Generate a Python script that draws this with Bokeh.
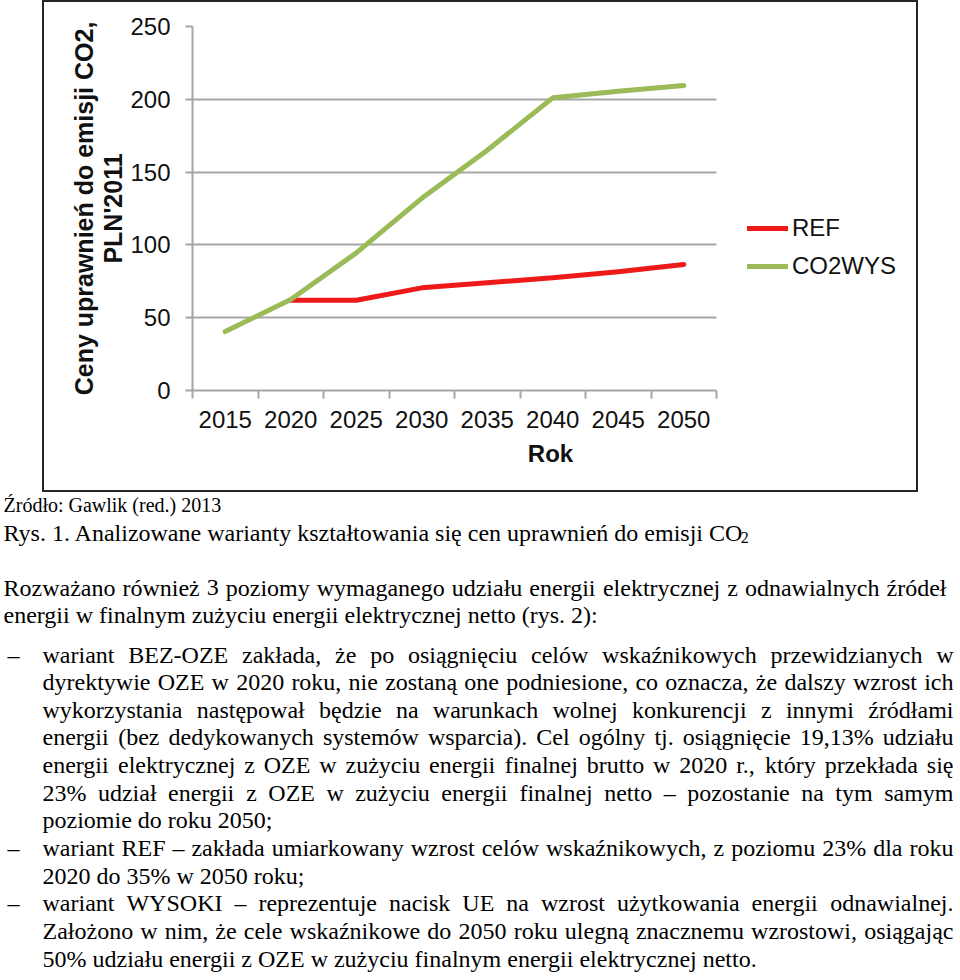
from bokeh.plotting import figure
from bokeh.models import (Range1d, FixedTicker, ColumnDataSource, Legend, LegendItem)
from bokeh.embed import file_html
from bokeh.resources import INLINE
from bokeh.core.properties import value

# ---------------- data ----------------
years = [2015, 2020, 2025, 2030, 2035, 2040, 2045, 2050]
ref_prices = [float("nan"), 62, 62, 70.5, 74, 77.5, 81.5, 86.5]
co2wys_prices = [40.5, 62.5, 94.5, 132, 165, 201, 205.5, 209.5]
y_ticks = [0, 50, 100, 150, 200, 250]
series_names = ["REF", "CO2WYS"]
x_axis_title = "Rok"
y_axis_title = "Ceny uprawnień do emisji CO2,\nPLN'2011"

source_note = "Źródło: Gawlik (red.) 2013"
caption = "Rys. 1. Analizowane warianty kształtowania się cen uprawnień do emisji CO"
caption_sub = "2"
intro_lines = [
    "Rozważano również 3 poziomy wymaganego udziału energii elektrycznej z odnawialnych źródeł",
    "energii w finalnym zużyciu energii elektrycznej netto (rys. 2):",
]
bullet_lines = [
    [
        "wariant BEZ-OZE zakłada, że po osiągnięciu celów wskaźnikowych przewidzianych w",
        "dyrektywie OZE w 2020 roku, nie zostaną one podniesione, co oznacza, że dalszy wzrost ich",
        "wykorzystania następował będzie na warunkach wolnej konkurencji z innymi źródłami",
        "energii (bez dedykowanych systemów wsparcia). Cel ogólny tj. osiągnięcie 19,13% udziału",
        "energii elektrycznej z OZE w zużyciu energii finalnej brutto w 2020 r., który przekłada się",
        "23% udział energii z OZE w zużyciu energii finalnej netto – pozostanie na tym samym",
        "poziomie do roku 2050;",
    ],
    [
        "wariant REF – zakłada umiarkowany wzrost celów wskaźnikowych, z poziomu 23% dla roku",
        "2020 do 35% w 2050 roku;",
    ],
    [
        "wariant WYSOKI – reprezentuje nacisk UE na wzrost użytkowania energii odnawialnej.",
        "Założono w nim, że cele wskaźnikowe do 2050 roku ulegną znacznemu wzrostowi, osiągając",
        "50% udziału energii z OZE w zużyciu finalnym energii elektrycznej netto.",
    ],
]

# ---------------- styles ----------------
RED = "#ee1a1a"
GREEN = "#9bbb59"
GRID = "#a6a6a6"
SANS = "Liberation Sans"
SERIF = "Liberation Serif"

CW, CH = 876, 492          # chart box
FRAME_L, FRAME_R = 150, 866
DATA_W = 524               # pixel width of the 8 year slots
x_start = years[0] - 2.5
x_span = 5 * len(years)
x_stop = x_start + x_span
x_end = x_start + x_span * (FRAME_R - FRAME_L) / DATA_W

# ---------------- chart ----------------
p = figure(width=CW, height=CH, output_backend="svg", toolbar_location=None,
           x_range=Range1d(x_start, x_end), y_range=Range1d(0, 250),
           min_border_left=FRAME_L, min_border_right=CW - FRAME_R,
           min_border_top=26, min_border_bottom=102,
           margin=(0, 0, 0, 42),
           styles={"outline": "2px solid #262626", "outline-offset": "-2px"})
p.outline_line_color = None
p.background_fill_color = "white"
p.border_fill_color = None

boundaries = [x_start + 5 * i for i in range(len(years) + 1)]
p.xaxis.ticker = FixedTicker(ticks=years, minor_ticks=boundaries)
p.yaxis.ticker = FixedTicker(ticks=y_ticks)
p.xaxis.bounds = (x_start, x_stop)
p.xgrid.grid_line_color = None

grid_ok = False
try:
    p.ygrid[0].cross_bounds = (x_start, x_stop)
    grid_ok = True
except Exception:
    grid_ok = False
if grid_ok:
    p.ygrid.grid_line_color = GRID
    p.ygrid.grid_line_width = 2
else:
    p.ygrid.grid_line_color = None
    gl = [v for v in y_ticks if v > 0]
    p.segment(x0=[x_start] * len(gl), x1=[x_stop] * len(gl), y0=gl, y1=gl,
              line_color=GRID, line_width=2, level="underlay")

r_ref = p.line(years, ref_prices, line_color=RED, line_width=5,
               line_cap="round", line_join="round")
r_wys = p.line(years, co2wys_prices, line_color=GREEN, line_width=5,
               line_cap="round", line_join="round")

for ax in (p.xaxis[0], p.yaxis[0]):
    ax.axis_line_color = GRID
    ax.axis_line_width = 2
    ax.major_label_text_font = SANS
    ax.major_label_text_font_size = "24px"
    ax.major_label_text_color = "#111111"
    ax.axis_label_text_font = SANS
    ax.axis_label_text_font_style = "bold"
    ax.axis_label_text_color = "#111111"

xa = p.xaxis[0]
xa.axis_label = x_axis_title
xa.axis_label_text_font_size = "24px"
xa.major_tick_in = 0
xa.major_tick_out = 0
xa.major_tick_line_color = None
xa.minor_tick_in = 0
xa.minor_tick_out = 8
xa.minor_tick_line_color = GRID
xa.minor_tick_line_width = 2
xa.major_label_standoff = 12
xa.axis_label_standoff = 9

ya = p.yaxis[0]
ya.axis_label = y_axis_title
ya.axis_label_text_font_size = "25px"
ya.axis_label_text_line_height = 1.05
ya.major_tick_in = 0
ya.major_tick_out = 7
ya.major_tick_line_color = GRID
ya.major_tick_line_width = 2
ya.minor_tick_line_color = None
ya.major_label_standoff = 15
ya.axis_label_standoff = 0

legend = Legend(items=[LegendItem(label=series_names[0], renderers=[r_ref]),
                       LegendItem(label=series_names[1], renderers=[r_wys])],
                location=(555, 107), orientation="vertical",
                glyph_width=41, glyph_height=34, label_height=34,
                label_standoff=4, spacing=4, padding=0, margin=0,
                border_line_color=None, background_fill_alpha=0,
                label_text_font=SANS, label_text_font_size="24px",
                label_text_color="#111111")
p.add_layout(legend)

# ---------------- text block ----------------
TNR = {' ': 250, '!': 333, '"': 408, '%': 833, '(': 333, ')': 333, ',': 250,
       '-': 333, '.': 250, ':': 278, ';': 278, "'": 180, '–': 500,
       'A': 722, 'B': 667, 'C': 667, 'D': 722, 'E': 611, 'F': 556, 'G': 722,
       'H': 722, 'I': 333, 'J': 389, 'K': 722, 'L': 611, 'M': 889, 'N': 722,
       'O': 722, 'P': 556, 'Q': 722, 'R': 667, 'S': 556, 'T': 611, 'U': 722,
       'V': 722, 'W': 944, 'X': 722, 'Y': 722, 'Z': 611,
       'a': 444, 'b': 500, 'c': 444, 'd': 500, 'e': 444, 'f': 333, 'g': 500,
       'h': 500, 'i': 278, 'j': 278, 'k': 500, 'l': 278, 'm': 778, 'n': 500,
       'o': 500, 'p': 500, 'q': 500, 'r': 333, 's': 389, 't': 278, 'u': 500,
       'v': 500, 'w': 722, 'x': 500, 'y': 500, 'z': 444,
       'ą': 444, 'ć': 444, 'ę': 444, 'ł': 278, 'ń': 500, 'ó': 500, 'ś': 389,
       'ź': 444, 'ż': 444, 'Ź': 611, 'Ż': 611, 'Ł': 611, 'Ś': 556}


def tw(s, size):
    return sum(TNR.get(ch, 500) for ch in s) * size / 1000.0


TW, TH = 960, 480
OFF_Y = CH + 8
main = {"x": [], "y": [], "text": []}
small = {"x": [], "y": [], "text": []}
sub = {"x": [], "y": [], "text": []}


def put(d, txt, x, y):
    d["x"].append(x)
    d["y"].append(y - OFF_Y)
    d["text"].append(txt)


def place_line(line, left, right, base, justify):
    if not justify:
        put(main, line, left, base)
        return
    words = line.split(" ")
    widths = [tw(w, 24) for w in words]
    gap = (right - left - sum(widths)) / max(1, len(words) - 1)
    x = left
    for wd_text, wd in zip(words, widths):
        put(main, wd_text, x, base)
        x += wd + gap


put(small, source_note, 3, 512)
put(main, caption, 3, 540)
put(sub, caption_sub, 3 + tw(caption, 24) - 4, 545)

intro_base = [595, 622]
for i, line in enumerate(intro_lines):
    place_line(line, 3, 946, intro_base[i], i < len(intro_lines) - 1)

k = 0
for group in bullet_lines:
    for i, line in enumerate(group):
        base = 662 + 27.65 * k
        if i == 0:
            put(main, "–", 7, base)
        place_line(line, 42, 953, base, i < len(group) - 1)
        k += 1

t = figure(width=TW, height=TH, output_backend="svg", toolbar_location=None,
           x_range=Range1d(0, TW), y_range=Range1d(TH, 0),
           x_axis_location=None, y_axis_location=None, min_border=0)
t.grid.visible = False
t.outline_line_color = None
t.background_fill_color = "white"
t.border_fill_color = "white"

t.text(x="x", y="y", text="text", source=ColumnDataSource(main),
       text_font=value(SERIF), text_font_size="24px", text_color="#000000",
       text_align="left", text_baseline="alphabetic")
t.text(x="x", y="y", text="text", source=ColumnDataSource(small),
       text_font=value(SERIF), text_font_size="20px", text_color="#000000",
       text_align="left", text_baseline="alphabetic")
t.text(x="x", y="y", text="text", source=ColumnDataSource(sub),
       text_font=value(SERIF), text_font_size="16px", text_color="#000000",
       text_align="left", text_baseline="alphabetic")

open("out.html", "w").write(file_html([p, t], INLINE, title="Ceny uprawnień CO2"))
